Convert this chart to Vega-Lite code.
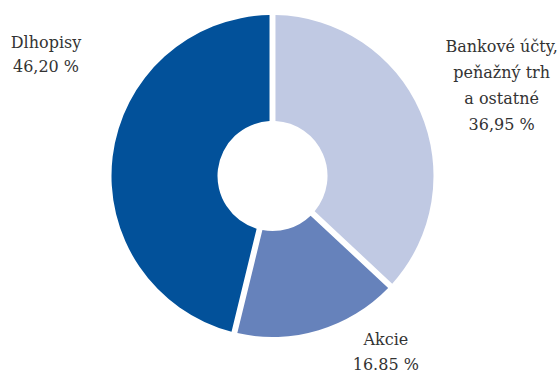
{
  "$schema": "https://vega.github.io/schema/vega-lite/v6.json",
  "width": 545,
  "height": 352,
  "autosize": {"type": "none"},
  "padding": {"left": 0, "top": 0, "right": 15, "bottom": 24},
  "background": "white",
  "data": {
    "values": [
      {"k": 1, "cat": "Bankové účty, peňažný trh a ostatné", "value": 36.95, "label": "Bankové účty,\npeňažný trh\na ostatné\n36,95 %"},
      {"k": 2, "cat": "Akcie", "value": 16.85, "label": "Akcie\n16.85 %"},
      {"k": 3, "cat": "Dlhopisy", "value": 46.20, "label": "Dlhopisy\n46,20 %"}
    ]
  },
  "encoding": {
    "theta": {"field": "value", "type": "quantitative", "stack": true},
    "order": {"field": "k", "type": "quantitative"}
  },
  "layer": [
    {
      "mark": {"type": "arc", "outerRadius": 161, "innerRadius": 55, "padAngle": 0.035},
      "encoding": {
        "color": {
          "field": "cat",
          "type": "nominal",
          "scale": {
            "domain": ["Bankové účty, peňažný trh a ostatné", "Akcie", "Dlhopisy"],
            "range": ["#c0c9e3", "#6682bb", "#02519a"]
          },
          "legend": null
        }
      }
    },
    {
      "mark": {"type": "text", "radius": 215, "dx": -13, "dy": -107, "font": "DejaVu Serif", "fontSize": 16, "lineHeight": 24, "lineBreak": "\n", "color": "#333333", "align": "center", "baseline": "middle"},
      "encoding": {
        "text": {"condition": {"test": "datum.k === 3", "field": "label"}, "value": ""}
      }
    },
    {
      "mark": {"type": "text", "radius": 240, "dx": 9, "dy": -33, "font": "DejaVu Serif", "fontSize": 16, "lineHeight": 26, "lineBreak": "\n", "color": "#333333", "align": "center", "baseline": "middle"},
      "encoding": {
        "text": {"condition": {"test": "datum.k === 1", "field": "label"}, "value": ""}
      }
    },
    {
      "mark": {"type": "text", "radius": 200, "dx": 56, "dy": -28, "font": "DejaVu Serif", "fontSize": 16, "lineHeight": 25, "lineBreak": "\n", "color": "#333333", "align": "center", "baseline": "middle"},
      "encoding": {
        "text": {"condition": {"test": "datum.k === 2", "field": "label"}, "value": ""}
      }
    }
  ]
}
